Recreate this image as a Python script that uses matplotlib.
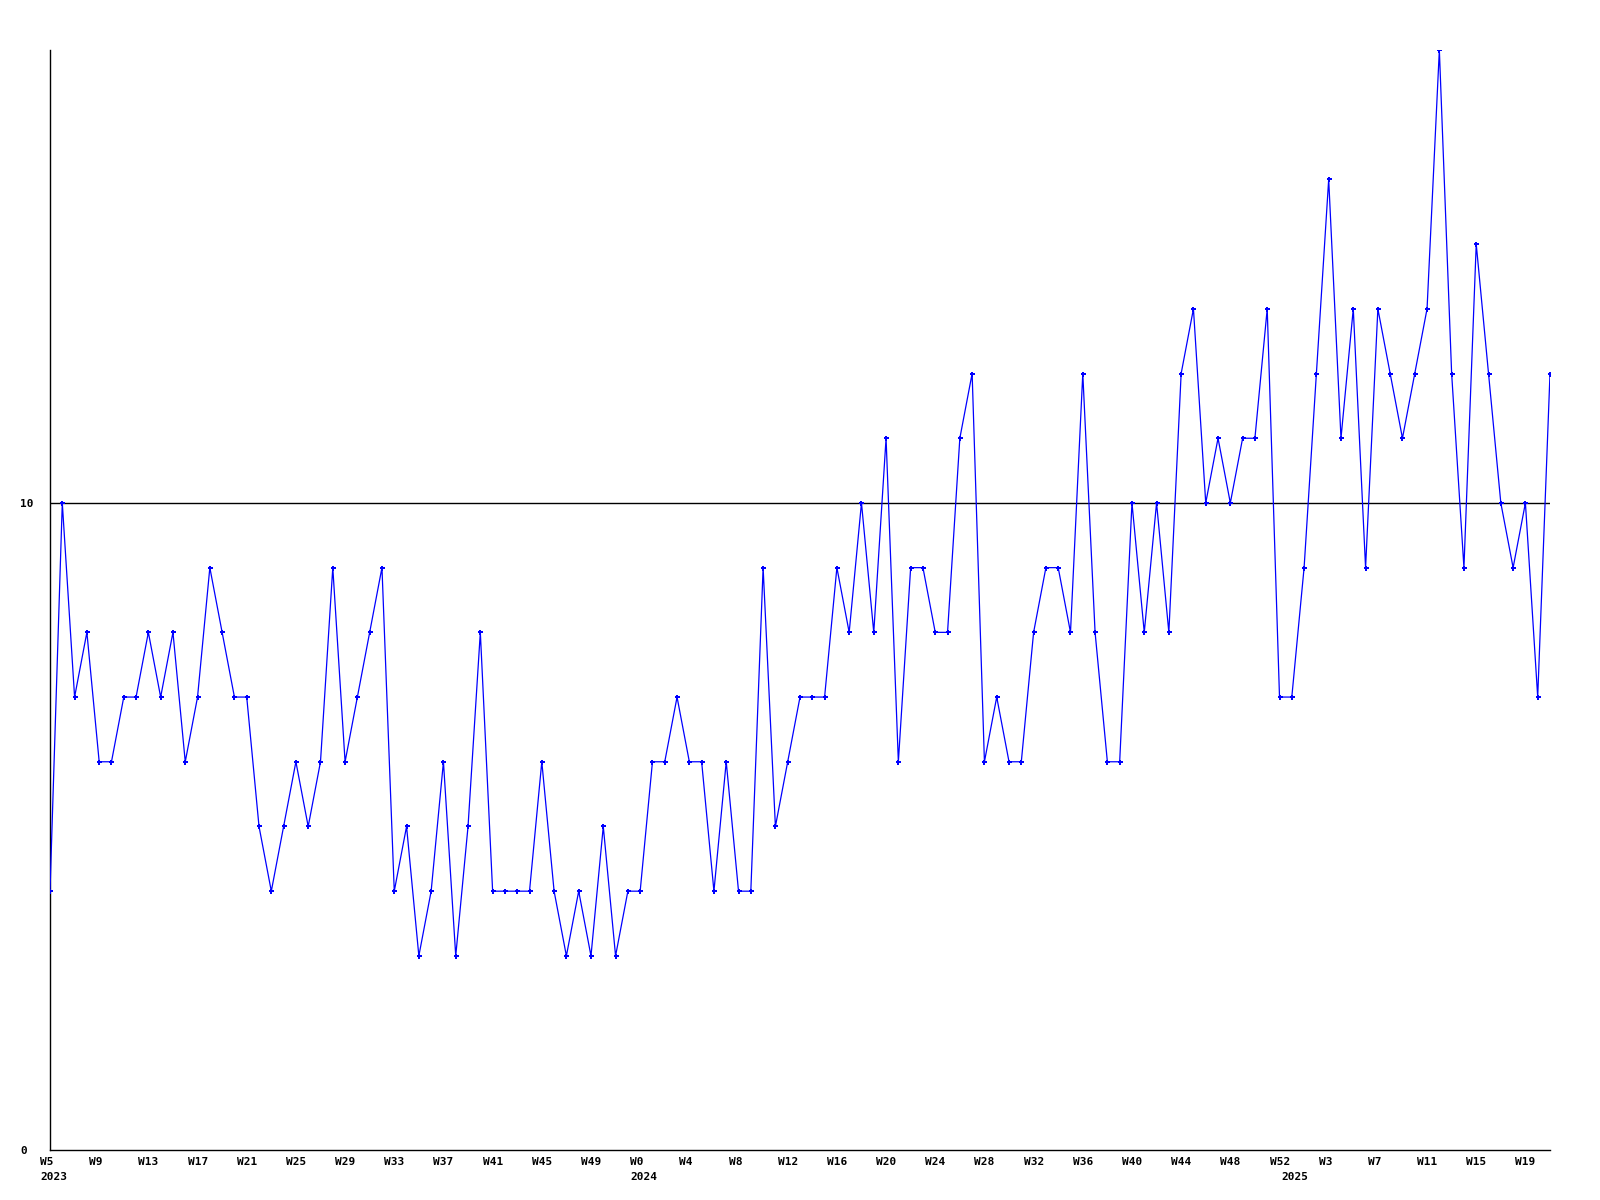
import matplotlib
matplotlib.use("Agg")
import matplotlib.pyplot as plt
from matplotlib.transforms import ScaledTranslation, blended_transform_factory

# ---- data ----
values = [
    4, 10, 7, 8, 6, 6, 7, 7, 8, 7, 8, 6, 7, 9, 8, 7, 7, 5, 4, 5,
    6, 5, 6, 9, 6, 7, 8, 9, 4, 5, 3, 4, 6, 3, 5, 8, 4, 4, 4, 4,
    6, 4, 3, 4, 3, 5, 3, 4, 4, 6, 6, 7, 6, 6, 4, 6, 4, 4, 9, 5,
    6, 7, 7, 7, 9, 8, 10, 8, 11, 6, 9, 9, 8, 8, 11, 12, 6, 7, 6, 6,
    8, 9, 9, 8, 12, 8, 6, 6, 10, 8, 10, 8, 12, 13, 10, 11, 10, 11, 11, 13,
    7, 7, 9, 12, 15, 11, 13, 9, 13, 12, 11, 12, 13, 17, 12, 9, 14, 12, 10, 9,
    10, 7, 12,
]
tick_labels = [
    "W5", "W9", "W13", "W17", "W21", "W25", "W29", "W33", "W37", "W41", "W45", "W49",
    "W0", "W4", "W8", "W12", "W16", "W20", "W24", "W28", "W32", "W36", "W40", "W44",
    "W48", "W52",
    "W3", "W7", "W11", "W15", "W19",
]
year_labels = ["2023", "2024", "2025"]
year_start_index = [0, 48, 101]
y_ticks = [0, 10]

# ---- figure ----
W, H, DPI = 1600, 1200, 100
fig = plt.figure(figsize=(W / DPI, H / DPI), dpi=DPI, facecolor="white")
ax = fig.add_axes([50 / W, 50 / H, 1500 / W, 1100 / H])
ax.set_facecolor("white")

x = list(range(len(values)))
ax.plot(x, values, color="#0000ff", linewidth=0.9, marker="P", markersize=3.6,
        markeredgewidth=0, markerfacecolor="#0000ff", zorder=3)

ax.set_xlim(0, len(values) - 1)
ax.set_ylim(0, 17)

for s in ["top", "right"]:
    ax.spines[s].set_visible(False)
for s in ["left", "bottom"]:
    ax.spines[s].set_color("black")
    ax.spines[s].set_linewidth(1.0)

# reference line at 10
ax.axhline(10, color="black", linewidth=1.0, zorder=2)

font = dict(family="DejaVu Sans Mono", weight="bold", size=8)

# y ticks: labels left aligned at fixed x
ax.set_yticks(y_ticks)
ax.set_yticklabels([str(v) for v in y_ticks], **font)
ax.tick_params(axis="y", length=0, pad=30 * 72 / DPI)
for lab in ax.get_yticklabels():
    lab.set_horizontalalignment("left")

# x ticks
tick_pos = list(range(0, 4 * len(tick_labels), 4))
ax.set_xticks(tick_pos)
ax.set_xticklabels(tick_labels, **font)
ax.tick_params(axis="x", length=0, pad=7 * 72 / DPI)
off = ScaledTranslation(-10 / DPI, 0, fig.dpi_scale_trans)
for lab in ax.get_xticklabels():
    lab.set_horizontalalignment("left")
    lab.set_transform(lab.get_transform() + off)

# year labels
trans = blended_transform_factory(ax.transData, ax.transAxes)
for yl, xi in zip(year_labels, year_start_index):
    ax.text(xi, 0, yl, transform=trans + ScaledTranslation(-10 / DPI, -22 / DPI, fig.dpi_scale_trans),
            ha="left", va="top", **font)

fig.savefig("out.png", dpi=DPI, facecolor="white")
